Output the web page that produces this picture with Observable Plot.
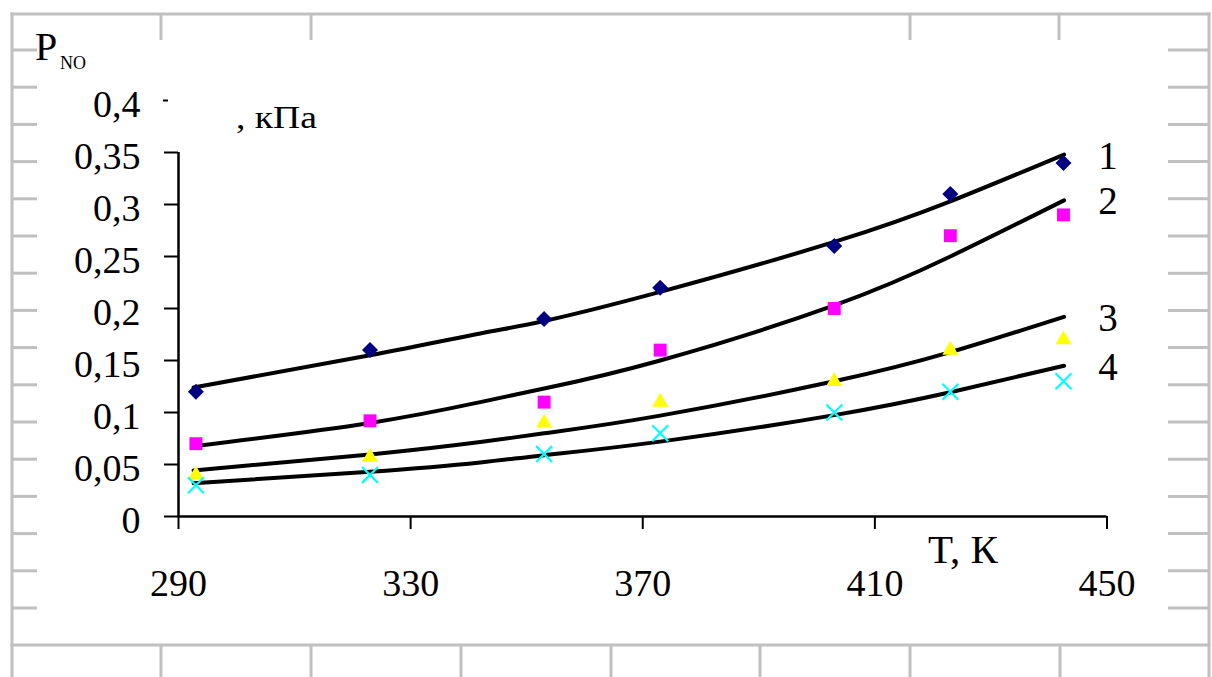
<!DOCTYPE html>
<html>
<head>
<meta charset="utf-8">
<script src="https://cdn.jsdelivr.net/npm/d3@7"></script>
<script src="https://cdn.jsdelivr.net/npm/@observablehq/plot@0.6"></script>
<style>
  html, body { margin: 0; padding: 0; background: #fff; }
  #chart svg { display: block; }
</style>
</head>
<body>
<div id="chart"></div>
<script>
// ---- data ----
const temps = [293, 323, 353, 373, 403, 423, 442.5];           // T, K
const measured1 = [0.12, 0.16, 0.19, 0.22, 0.26, 0.31, 0.34];   // P_NO, kPa
const measured2 = [0.07, 0.092, 0.11, 0.16, 0.20, 0.27, 0.29];
const measured3 = [0.04, 0.057, 0.09, 0.11, 0.13, 0.16, 0.17];
const measured4 = [0.03, 0.04, 0.06, 0.08, 0.10, 0.12, 0.13];

const fitTemps = [292.6, 323, 342, 353, 373, 403, 423, 442.6];  // trend lines
const fit1 = [0.124, 0.155, 0.176, 0.188, 0.216, 0.264, 0.303, 0.348];
const fit2 = [0.0676, 0.090, 0.110, 0.123, 0.150, 0.203, 0.250, 0.304];
const fit3 = [0.0442, 0.0596, 0.0716, 0.080, 0.097, 0.130, 0.158, 0.192];
const fit4 = [0.032, 0.043, 0.052, 0.059, 0.072, 0.0975, 0.1195, 0.145];

const seriesNames = ["1", "2", "3", "4"];
const xTicks = [290, 330, 370, 410, 450];
const yTicks = [0, 0.05, 0.1, 0.15, 0.2, 0.25, 0.3, 0.35];
const yLabelTicks = [0, 0.05, 0.1, 0.15, 0.2, 0.25, 0.3, 0.35, 0.4];
const yTopTick = [0.4];

const markerColors = ["#000080", "#ff00ff", "#ffff00", "#00ffff"];
const markerSymbols = ["diamond2", "square", "triangle", "times"];
const markerR = [7.2, 7.3, 5.95, 7.3];

// ---- tables ----
const measured = [measured1, measured2, measured3, measured4];
const fits = [fit1, fit2, fit3, fit4];
const points = measured.flatMap((arr, s) => arr.map((v, i) => ({s, T: temps[i], v})));
const fitRows = fits.flatMap((arr, s) => arr.map((v, i) => ({s, T: fitTemps[i], v})));
const lineEnds = fits.map((arr, s) => ({s, name: seriesNames[s], T: fitTemps[fitTemps.length - 1], v: arr[arr.length - 1]}));

const fmt = d => String(d).replace(".", ",");
const serif = "'Liberation Serif', 'Times New Roman', Times, serif";

const dotMarks = markerSymbols.map((sym, s) => {
  const data = points.filter(d => d.s === s);
  const opts = {x: "T", y: "v", symbol: sym, r: markerR[s]};
  if (sym === "times") Object.assign(opts, {stroke: markerColors[s], strokeWidth: 2.2, fill: "none"});
  else Object.assign(opts, {fill: markerColors[s], stroke: "none"});
  return Plot.dot(data, opts);
});

const chart = Plot.plot({
  width: 1212,
  height: 677,
  marginLeft: 178,
  marginRight: 105.5,
  marginTop: 100,
  marginBottom: 161,
  x: {domain: [290, 450], label: null},
  y: {domain: [0, 0.4], label: null},
  style: {fontFamily: serif, background: "transparent", color: "black", overflow: "visible"},
  marks: [
    // axis lines
    Plot.ruleX([290], {y1: 0, y2: 0.35, stroke: "black", strokeWidth: 2.5}),
    Plot.ruleY([0], {x1: 290, x2: 450, stroke: "black", strokeWidth: 2.5}),
    // y ticks and labels
    Plot.axisY({ticks: yTicks, tickSize: 14, tickFormat: () => "", strokeWidth: 2, label: null}),
    Plot.axisY({ticks: yTopTick, tickSize: 5, dx: -10, tickFormat: () => "", strokeWidth: 2, label: null}),
    Plot.axisY({ticks: yLabelTicks, tickSize: 0, tickPadding: 38, tickFormat: fmt, fontSize: 38, dy: 4.5, fill: "black", label: null}),
    // x ticks and labels
    Plot.axisX({ticks: xTicks, tickSize: 13, tickPadding: 40, tickFormat: d => String(d), fontSize: 38, strokeWidth: 2, fill: "black", label: null}),
    // trend lines
    Plot.line(fitRows, {x: "T", y: "v", z: "s", stroke: "black", strokeWidth: 4, curve: "natural"}),
    // measured points
    ...dotMarks,
    // series numbers
    Plot.text(lineEnds, {x: "T", y: "v", text: "name", dx: 44, dy: 1.5, fontSize: 39, textAnchor: "middle", fill: "black"})
  ]
});

document.getElementById("chart").appendChild(chart);

// ---- decorative grey table frame behind the chart ----
const svg = d3.select(chart);
const deco = svg.insert("g", ":first-child")
  .attr("stroke", "#c0c0c0").attr("stroke-width", 3).attr("fill", "none");
const hLine = (x1, x2, y) => deco.append("line").attr("x1", x1).attr("x2", x2).attr("y1", y).attr("y2", y);
const vLine = (x, y1, y2) => deco.append("line").attr("x1", x).attr("x2", x).attr("y1", y1).attr("y2", y2);
hLine(10.5, 1210.5, 14);
hLine(10.5, 1210.5, 645);
vLine(12, 12.5, 677);
vLine(1209, 12.5, 677);
for (let k = 0; k < 16; k++) {
  const y = 50 + k * 37.2;
  hLine(12, 37, y);
  hLine(1168, 1209, y);
}
[161, 311, 910, 1059].forEach(x => vLine(x, 14, 40));
[161, 311, 461, 611, 760, 910, 1060].forEach(x => vLine(x, 645, 677));

// ---- axis titles ----
const title = svg.append("g").attr("font-family", serif).attr("fill", "black").attr("text-anchor", "start");
title.append("text").attr("x", 35).attr("y", 60).attr("font-size", 40).text("P");
title.append("text").attr("x", 60).attr("y", 69).attr("font-size", 18).text("NO");
title.append("text").attr("x", 236).attr("y", 128).attr("font-size", 31)
  .attr("textLength", 81).attr("lengthAdjust", "spacingAndGlyphs").text(", кПа");
title.append("text").attr("x", 928).attr("y", 563).attr("font-size", 41).text("T, К");
</script>
</body>
</html>
